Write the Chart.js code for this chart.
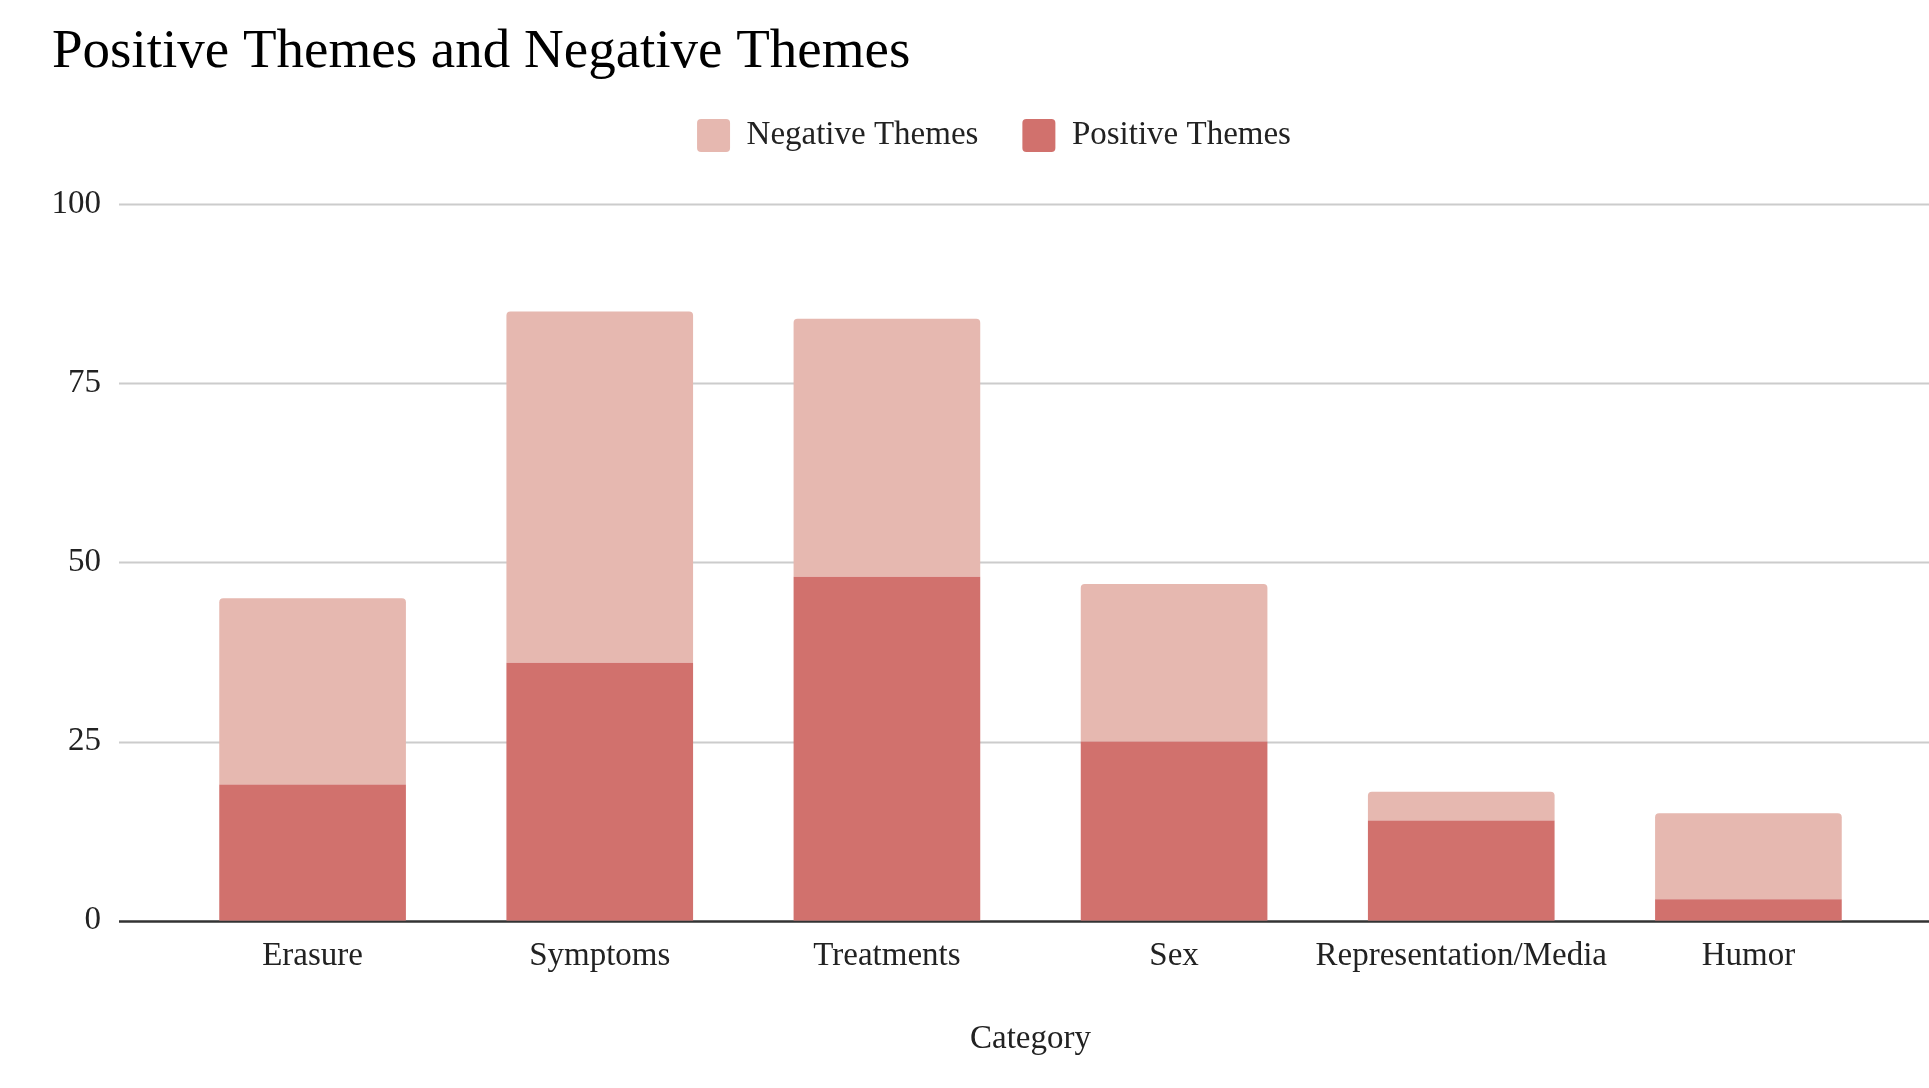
<!DOCTYPE html>
<html>
<head>
<meta charset="utf-8">
<script src="https://cdn.jsdelivr.net/npm/chart.js@4.4.1/dist/chart.umd.min.js"></script>
<style>
  html, body { margin: 0; padding: 0; background: #fff; }
  #wrap { width: 1929px; height: 1088px; position: relative; }
</style>
</head>
<body>
<div id="wrap"><canvas id="chart"></canvas></div>
<script>
const categories = ['Erasure', 'Symptoms', 'Treatments', 'Sex', 'Representation/Media', 'Humor'];
const positiveThemes = [19, 36, 48, 25, 14, 3];
const negativeThemes = [26, 49, 36, 22, 4, 12];
const yTicks = [0, 25, 50, 75, 100];

const FONT = '"Liberation Serif", "Times New Roman", serif';

// gridlines run past the plot on both sides, like the sheets chart
const wideGrid = {
  id: 'wideGrid',
  beforeDatasetsDraw(chart) {
    const ctx = chart.ctx;
    const y = chart.scales.y;
    ctx.save();
    yTicks.forEach((v) => {
      const py = Math.round(y.getPixelForValue(v)) + 0.5;
      ctx.beginPath();
      ctx.strokeStyle = v === 0 ? '#333333' : '#cccccc';
      ctx.lineWidth = v === 0 ? 2.5 : 2;
      ctx.moveTo(119, py);
      ctx.lineTo(chart.width, py);
      ctx.stroke();
    });
    ctx.restore();
  },
  afterLayout(chart) {
    if (chart.legend) { chart.legend.left += 22; chart.legend.right += 22; }
  },
};

new Chart(document.getElementById('chart').getContext('2d'), {
  type: 'bar',
  data: {
    labels: categories,
    datasets: [
      { label: 'Positive Themes', data: positiveThemes, backgroundColor: '#d1716d', borderRadius: 4, borderSkipped: 'start' },
      { label: 'Negative Themes', data: negativeThemes, backgroundColor: '#e6b8b0', borderRadius: 4, borderSkipped: 'start' },
    ],
  },
  plugins: [wideGrid],
  options: {
    responsive: true,
    maintainAspectRatio: false,
    animation: false,
    devicePixelRatio: 1,
    layout: { padding: { left: 52, right: 37, top: 0, bottom: 0 } },
    datasets: { bar: { barPercentage: 0.65, categoryPercentage: 1 } },
    plugins: {
      title: {
        display: true,
        text: 'Positive Themes and Negative Themes',
        align: 'start',
        color: '#000',
        font: { family: FONT, size: 55, weight: 'normal' },
        padding: { top: 20, bottom: -11 },
      },
      legend: {
        display: true,
        reverse: true,
        labels: {
          color: '#222',
          font: { family: FONT, size: 33 },
          boxWidth: 33,
          boxHeight: 33,
          padding: 44,
          useBorderRadius: true,
          borderRadius: 4,
        },
      },
      tooltip: { enabled: false },
    },
    scales: {
      x: {
        stacked: true,
        grid: { display: false },
        border: { display: false },
        ticks: { color: '#222', font: { family: FONT, size: 33 }, padding: 8, maxRotation: 0, autoSkip: false },
        title: { display: true, text: 'Category', color: '#222', font: { family: FONT, size: 33 }, padding: { top: 35, bottom: 29 } },
      },
      // empty strip that keeps the gap under the legend
      gap: {
        type: 'category',
        position: 'top',
        display: true,
        grid: { display: false },
        border: { display: false },
        ticks: { display: false },
        afterFit: (scale) => { scale.height = 42; },
      },
      y: {
        stacked: true,
        min: 0,
        max: 100,
        afterBuildTicks: (scale) => { scale.ticks = yTicks.map((v) => ({ value: v })); },
        afterFit: (scale) => { scale.width = 117; },
        grid: { display: false, drawTicks: false },
        border: { display: false },
        ticks: { color: '#222', font: { family: FONT, size: 33 }, padding: 68 },
      },
    },
  },
});
</script>
</body>
</html>
